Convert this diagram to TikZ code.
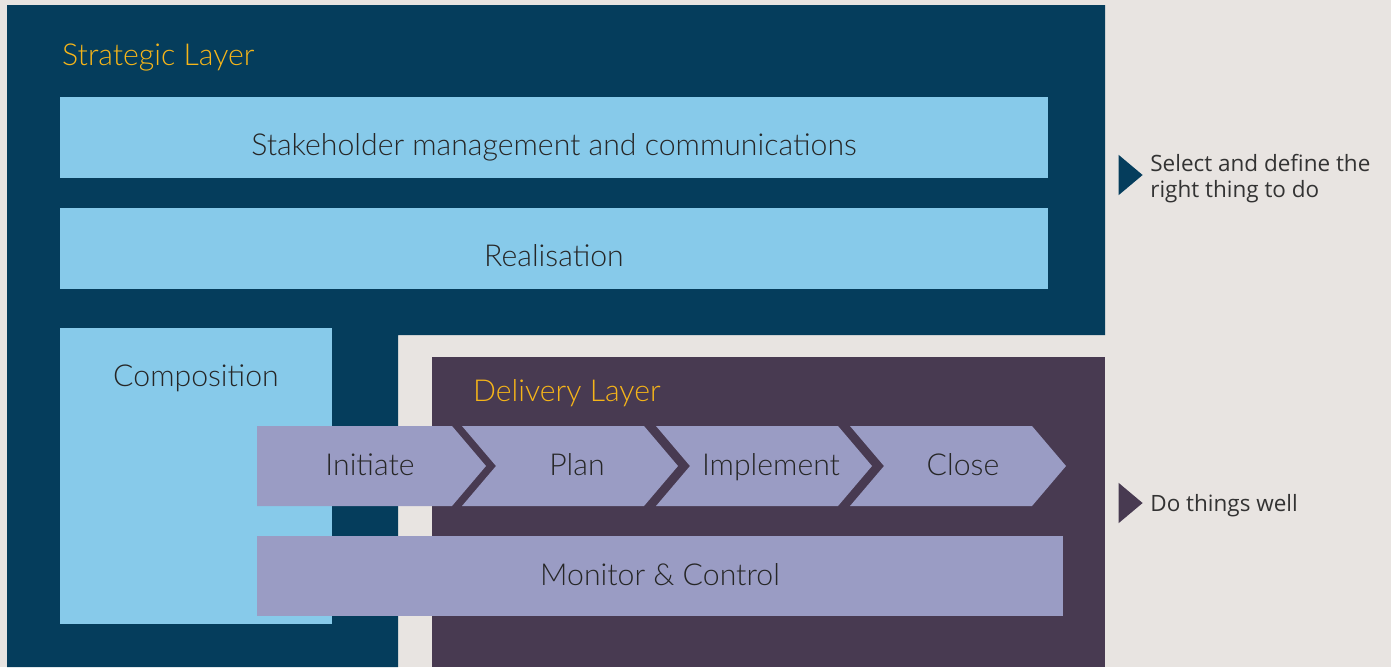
\documentclass[tikz,border=0pt]{standalone}
\usepackage{fontspec}
\setmainfont{Lato}[UprightFont=* Light]
\newfontfamily\notefont{Open Sans}
\usepackage{tikz}
\usetikzlibrary{positioning,shapes.geometric}

\definecolor{bgcol}{HTML}{E8E4E1}
\definecolor{stratblue}{HTML}{053D5C}
\definecolor{skyblue}{HTML}{87CAEA}
\definecolor{delpurple}{HTML}{483A51}
\definecolor{lavender}{HTML}{9A9CC4}
\definecolor{layeryellow}{HTML}{F6B519}
\definecolor{notegrey}{HTML}{333333}

\newcommand{\boxfont}{\fontsize{17.2}{20}\selectfont}

\begin{document}
\begin{tikzpicture}[x=0.02cm, y=-0.02cm]
        \tikzset{
            lightbox/.style={fill=skyblue, inner sep=0pt, font=\boxfont, text=black!85, text height=0.7cm, text depth=0pt},
            stepbox/.style={fill=lavender},
            steplabel/.style={font=\boxfont, text=black!85, text height=0.38cm, text depth=0pt},
            layertitle/.style={anchor=west, font=\boxfont, text=layeryellow, text height=0.38cm, text depth=0pt},
            marker/.style={isosceles triangle, isosceles triangle apex angle=80, inner sep=0pt, minimum height=0.48cm},
            note/.style={anchor=west, align=left, font=\notefont\fontsize{12.8}{15.2}\selectfont, text=notegrey},
        }

        % background and layers
        \fill[bgcol] (0,0) rectangle (1391,667);
        \useasboundingbox (0,0) rectangle (1391,667);
        \fill[stratblue] (7,5) -- (1105,5) -- (1105,335) -- (398,335) -- (398,667) -- (7,667) -- cycle;
        \fill[delpurple] (432,357) rectangle (1105,667);

        \node[layertitle] (strategic) at (56,56) {Strategic Layer};
        \node[layertitle] (delivery) at (467,392) {Delivery Layer};

        \node[lightbox, minimum width=19.76cm, minimum height=1.62cm] (stakeholder) at (554,137.5) {Stakeholder management and communications};
        \node[lightbox, minimum width=19.76cm, minimum height=1.62cm] (realisation) at (554,248.5) {Realisation};
        \node[lightbox, minimum width=5.44cm, minimum height=5.92cm] (composition) at (196,476) {};
        \node[steplabel] (complabel) at (196,377) {Composition};

        % process chevrons
        \fill[stepbox] (257,426) -- (452,426) -- (486,466) -- (452,506) -- (257,506) -- cycle;
        \foreach \i in {0,1,2} {
            \fill[stepbox] ({462+194*\i},426) -- ({644+194*\i},426) -- ({678+194*\i},466)
                -- ({644+194*\i},506) -- ({462+194*\i},506) -- ({496+194*\i},466) -- cycle;
        }
        \node[steplabel] (initiate) at (370,466) {Initiate};
        \node[steplabel] (plan) at (577,466) {Plan};
        \node[steplabel] (implement) at (771,466) {Implement};
        \node[steplabel] (close) at (963,466) {Close};

        \node[stepbox, steplabel, inner sep=0pt, minimum width=16.12cm, minimum height=1.6cm] (monitor) at (660,576) {Monitor \& Control};

        % side notes
        \node[marker, fill=stratblue] (selectmark) at (1128,175) {};
        \node[note, right=0.02cm of selectmark, yshift=-0.07cm] (select) {Select and define the\\right thing to do};
        \node[marker, fill=delpurple] (wellmark) at (1128,503) {};
        \node[note, right=0.02cm of wellmark, yshift=-0.05cm] (well) {Do things well};
    \end{tikzpicture}
\end{document}
